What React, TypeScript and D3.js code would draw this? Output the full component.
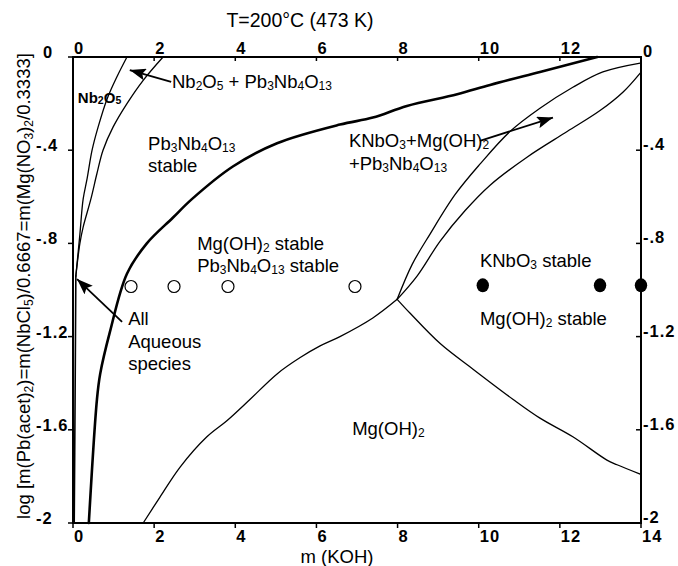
import React from 'react';
import * as d3 from 'd3';

// ---------- data ----------
const xTicks = [0, 2, 4, 6, 8, 10, 12, 14];
const topTicks = [0, 2, 4, 6, 8, 10, 12];
const yTicks = [0, -0.4, -0.8, -1.2, -1.6, -2];
const yTickLabels = ['0', '-.4', '-.8', '-1.2', '-1.6', '-2'];

// Nb2O5 / Nb2O5+Pb3Nb4O13 boundary (left)
const nb2o5Left: [number, number][] = [
  [1.33, 0], [1.08, -0.086], [0.84, -0.18], [0.62, -0.3], [0.47, -0.4],
  [0.35, -0.52], [0.25, -0.61], [0.17, -0.76], [0.07, -0.94],
];
// Nb2O5+Pb3Nb4O13 / Pb3Nb4O13 boundary
const nb2o5Right: [number, number][] = [
  [2.22, 0], [1.73, -0.1], [1.33, -0.2], [0.99, -0.3], [0.74, -0.4],
  [0.59, -0.5], [0.44, -0.61], [0.25, -0.73], [0.17, -0.8], [0.07, -0.94],
];
// All aqueous species boundary along the axis
const aqueousLine: [number, number][] = [[0.07, -0.94], [0.05, -1.5], [0.03, -2]];
// Pb3Nb4O13 stability boundary (thick)
const pbBoundary: [number, number][] = [
  [0.39, -2], [0.59, -1.47], [0.67, -1.36], [0.91, -1.18], [1.33, -0.93],
  [1.82, -0.8], [2.46, -0.69], [2.93, -0.61], [3.94, -0.47], [5.03, -0.37],
  [6.58, -0.29], [7.39, -0.26], [8.23, -0.21], [9.47, -0.16], [10.28, -0.12],
  [11.51, -0.064], [12.92, 0],
];
// Mg(OH)2 boundary up to the triple point
const mgBoundary: [number, number][] = [
  [1.73, -2], [2.14, -1.89], [2.64, -1.76], [3.3, -1.63], [3.8, -1.56],
  [4.36, -1.47], [5.03, -1.36], [5.6, -1.29], [6.09, -1.24], [6.58, -1.2],
  [7.39, -1.12], [7.99, -1.04],
];
// triple point to right axis (lower)
const knbLower: [number, number][] = [
  [7.99, -1.04], [8.31, -1.1], [9.05, -1.23], [9.86, -1.34], [10.85, -1.47],
  [11.51, -1.55], [12.32, -1.63], [13.16, -1.73], [13.41, -1.75], [13.98, -1.79],
];
// triple point to top right (two lines)
const knbUpperA: [number, number][] = [
  [7.99, -1.04], [8.36, -0.89], [8.8, -0.76], [9.42, -0.59], [10.03, -0.46],
  [10.77, -0.32], [11.51, -0.22], [12.32, -0.13], [13.06, -0.064], [13.98, -0.026],
];
const knbUpperB: [number, number][] = [
  [7.99, -1.04], [8.48, -0.94], [9.05, -0.79], [9.66, -0.66], [10.28, -0.55],
  [11.19, -0.43], [12.18, -0.32], [12.99, -0.23], [13.56, -0.15], [13.98, -0.069],
];

const openPoints: [number, number][] = [[1.43, -0.985], [2.49, -0.985], [3.82, -0.985], [6.95, -0.985]];
const filledPoints: [number, number][] = [[10.1, -0.98], [12.99, -0.98], [14.0, -0.98]];

// annotations in data units: [x, y, text]
const labels: [number, number, string][] = [
  [2.44, -0.133, 'Nb_2O_5 + Pb_3Nb_4O_13'],
  [1.85, -0.398, 'Pb_3Nb_4O_13'],
  [1.85, -0.492, 'stable'],
  [6.8, -0.386, 'KNbO_3+Mg(OH)_2'],
  [6.8, -0.485, '+Pb_3Nb_4O_13'],
  [3.06, -0.828, 'Mg(OH)_2 stable'],
  [3.06, -0.923, 'Pb_3Nb_4O_13 stable'],
  [1.36, -1.15, 'All'],
  [1.36, -1.249, 'Aqueous'],
  [1.36, -1.343, 'species'],
  [10.03, -0.901, 'KNbO_3 stable'],
  [10.03, -1.15, 'Mg(OH)_2 stable'],
  [6.88, -1.622, 'Mg(OH)_2'],
];
const smallLabel: [number, number, string] = [0.12, -0.197, 'Nb_2O_5'];

// arrows: [fromX, fromY, toX, toY]
const arrows: [number, number, number, number][] = [
  [2.42, -0.107, 1.4, -0.056],
  [10.03, -0.36, 11.83, -0.26],
  [1.21, -1.137, 0.1, -0.953],
];

// ---------- layout ----------
const W = 678, H = 566;
const L = 73, R = 641, T = 57, B = 523;

function chem(s: string, subSize: number, shift: number) {
  const parts = s.split(/_(\d+)/);
  const out: React.ReactNode[] = [];
  let lowered = false;
  parts.forEach((p, i) => {
    if (p === '') return;
    if (i % 2 === 1) {
      out.push(<tspan key={i} fontSize={subSize} dy={lowered ? 0 : shift}>{p}</tspan>);
      lowered = true;
    } else {
      out.push(<tspan key={i} dy={lowered ? -shift : 0}>{p}</tspan>);
      lowered = false;
    }
  });
  return out;
}

export default function App() {
  const x = d3.scaleLinear().domain([0, 14]).range([L, R]);
  const y = d3.scaleLinear().domain([-2, 0]).range([B, T]);
  const line = d3.line<[number, number]>().x(d => x(d[0])).y(d => y(d[1])).curve(d3.curveCatmullRom.alpha(0.5));

  const font = '"Liberation Sans", Arial, Helvetica, sans-serif';
  const thin = 1.3;

  return (
    <svg width={W} height={H} style={{ position: 'absolute', left: 0, top: 0, background: '#fff' }}
      fontFamily={font}>
      <defs>
        <marker id="ah" markerUnits="userSpaceOnUse" markerWidth={18} markerHeight={12}
          refX={16} refY={6} orient="auto">
          <path d="M0,0 L16,6 L0,12 L3,6 Z" fill="#000" />
        </marker>
      </defs>
      <rect x={0} y={0} width={W} height={H} fill="#fff" />

      {/* curves */}
      <g fill="none" stroke="#000" strokeLinejoin="round" strokeLinecap="round">
        <path d={line(nb2o5Left) || ''} strokeWidth={thin} />
        <path d={line(nb2o5Right) || ''} strokeWidth={thin} />
        <path d={line(aqueousLine) || ''} strokeWidth={1.6} />
        <path d={line(pbBoundary) || ''} strokeWidth={2.6} />
        <path d={line(mgBoundary) || ''} strokeWidth={thin} />
        <path d={line(knbLower) || ''} strokeWidth={thin} />
        <path d={line(knbUpperA) || ''} strokeWidth={thin} />
        <path d={line(knbUpperB) || ''} strokeWidth={thin} />
      </g>

      {/* frame */}
      <rect x={L} y={T} width={R - L} height={B - T} fill="none" stroke="#000" strokeWidth={2} />

      {/* ticks */}
      <g stroke="#000" strokeWidth={1.5}>
        {xTicks.map(t => <line key={'bt' + t} x1={x(t)} x2={x(t)} y1={B} y2={B + 5} />)}
        {topTicks.map(t => <line key={'tt' + t} x1={x(t)} x2={x(t)} y1={T} y2={T + 4} />)}
        {yTicks.map(t => <line key={'lt' + t} x1={L - 5} x2={L} y1={y(t)} y2={y(t)} />)}
        {yTicks.map(t => <line key={'rt' + t} x1={R - 5} x2={R} y1={y(t)} y2={y(t)} />)}
      </g>

      {/* tick labels */}
      <g fontSize={16.5} fontWeight="bold" letterSpacing={1}>
        {xTicks.map(t => <text key={'bl' + t} x={x(t) + 1} y={B + 19}>{t}</text>)}
        {topTicks.map(t => <text key={'tl' + t} x={x(t) + 1} y={T - 3}>{t}</text>)}
        {yTicks.map((t, i) => (
          <text key={'ll' + t} x={i === 0 ? 43 : 36} y={y(t) + 1}>{yTickLabels[i]}</text>
        ))}
        {yTicks.map((t, i) => (
          <text key={'rl' + t} x={R + 2} y={y(t)}>{yTickLabels[i]}</text>
        ))}
      </g>

      {/* points */}
      {openPoints.map((p, i) => (
        <circle key={'o' + i} cx={x(p[0])} cy={y(p[1])} r={6} fill="#fff" stroke="#000" strokeWidth={1.2} />
      ))}
      {filledPoints.map((p, i) => (
        <ellipse key={'f' + i} cx={x(p[0])} cy={y(p[1])} rx={6.2} ry={7} fill="#000" />
      ))}

      {/* arrows */}
      {arrows.map((a, i) => (
        <line key={'a' + i} x1={x(a[0])} y1={y(a[1])} x2={x(a[2])} y2={y(a[3])}
          stroke="#000" strokeWidth={1.8} markerEnd="url(#ah)" />
      ))}

      {/* region labels */}
      <g fontSize={18.5}>
        {labels.map((l, i) => (
          <text key={'lab' + i} x={x(l[0])} y={y(l[1])}>{chem(l[2], 12, 2)}</text>
        ))}
      </g>
      <text x={x(smallLabel[0])} y={y(smallLabel[1])} fontSize={15} fontWeight="bold">
        {chem(smallLabel[2], 10.5, 1)}
      </text>

      {/* titles */}
      <text x={300} y={27} fontSize={19.5} textAnchor="middle">T=200°C (473 K)</text>
      <text x={337} y={563} fontSize={18.5} textAnchor="middle">m (KOH)</text>
      <text transform="translate(30,286) rotate(-90)" fontSize={18.5} textAnchor="middle">
        {chem('log [m(Pb(acet)_2)=m(NbCl_5)/0.6667=m(Mg(NO_3)_2/0.3333]', 12, 3)}
      </text>
    </svg>
  );
}
